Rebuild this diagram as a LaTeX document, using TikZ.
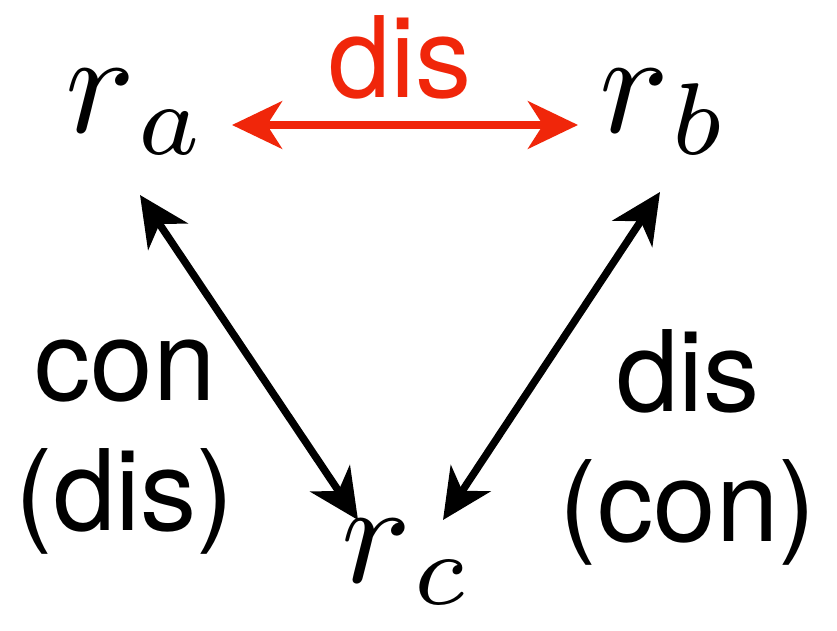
\documentclass[tikz,border=0pt]{standalone}
\usepackage{graphicx}
\usepackage{fontspec}
\setsansfont{TeX Gyre Heros}
\usepackage{tikz}
\usetikzlibrary{arrows.meta}
\definecolor{disred}{RGB}{240,38,10}
\tikzset{
  rel/.style={{Stealth[length=10mm,width=9.5mm,inset=3mm]}-{Stealth[length=10mm,width=9.5mm,inset=3mm]}, line width=1.5mm},
  var/.style={inner sep=0pt},
  lab/.style={font=\sffamily\fontsize{64}{74}\selectfont, align=center, inner sep=0pt}
}
\newcommand{\bigvar}[1]{\scalebox{8.3}{$#1$}}
\begin{document}
\begin{tikzpicture}[x=0.02cm, y=-0.02cm]
\useasboundingbox (0,0) rectangle (837,631);
% the three variables
\node[var] (ra) at (137,112) {\bigvar{r_{\mkern1mu a}}};
\node[var] (rb) at (665,112) {\bigvar{r_{\mkern1mu b}}};
\node[var] (rc) at (407,562) {\bigvar{r_{\mkern1mu c}}};
% end points of the connectors
\coordinate (ab1) at (232,125); \coordinate (ab2) at (578,125);
\coordinate (ac1) at (140,195); \coordinate (ac2) at (358,520);
\coordinate (bc1) at (660,192); \coordinate (bc2) at (443,520);
\draw[rel, disred] (ab1) -- (ab2);
\draw[rel] (ac1) -- (ac2);
\draw[rel] (bc1) -- (bc2);
% labels
\node[lab, text=disred] (tab) at (400,57) {dis};
\node[lab] (tac) at (125,447) {con\\(dis)};
\node[lab] (tbc) at (688,447) {dis\\(con)};
\end{tikzpicture}
\end{document}
